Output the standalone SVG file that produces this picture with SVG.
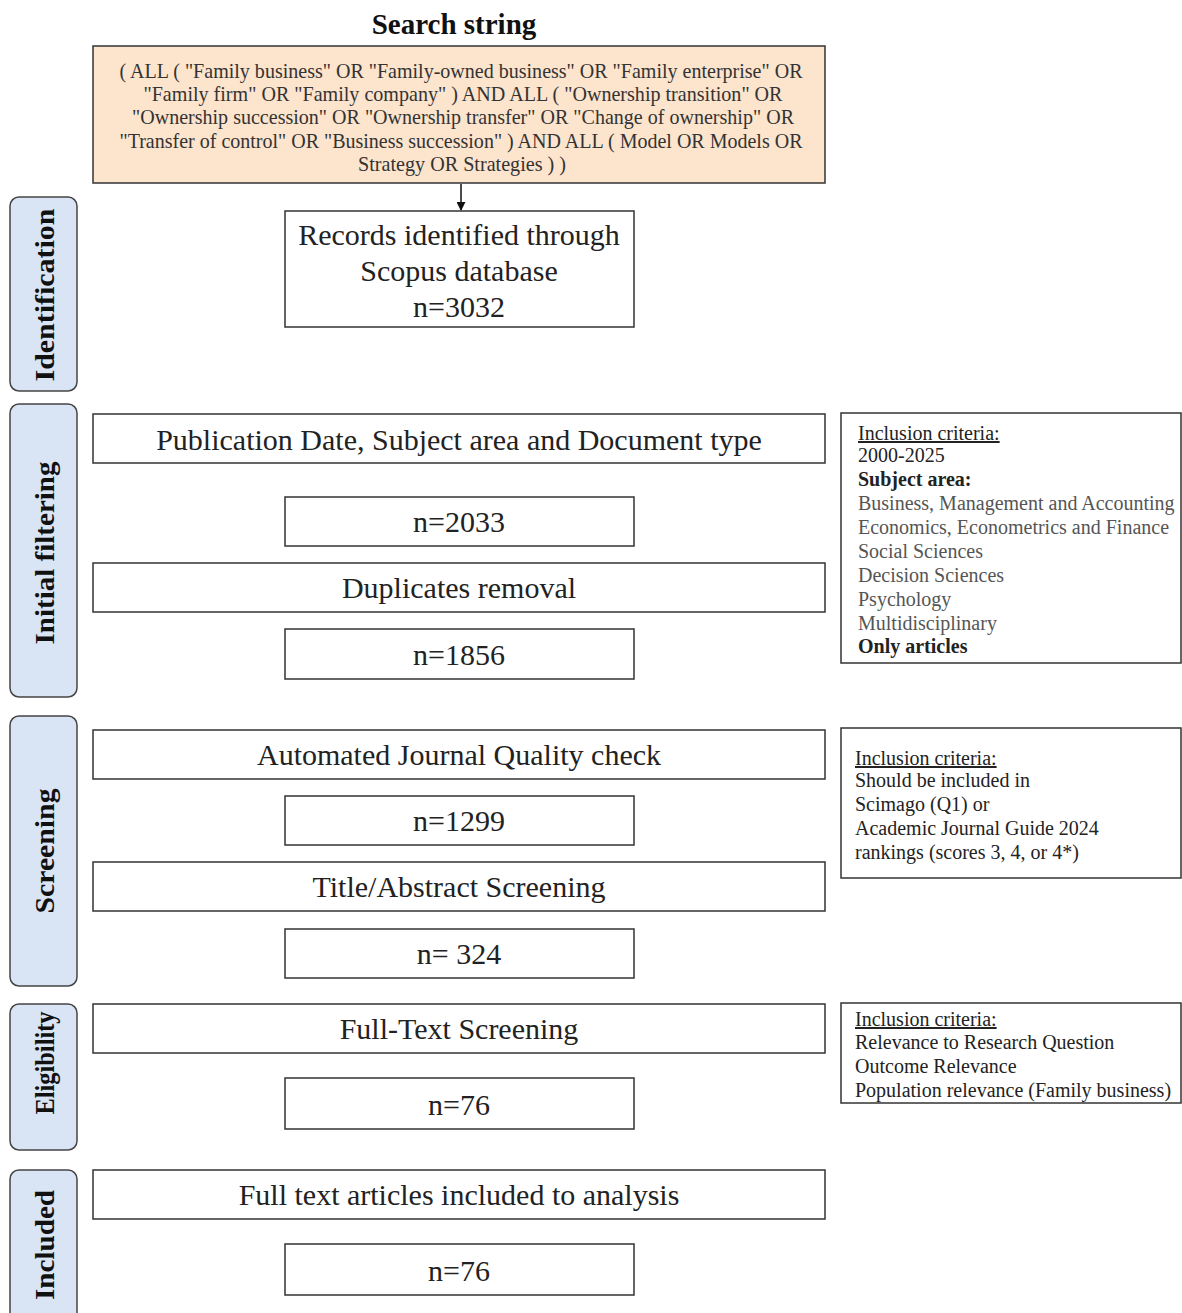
<svg xmlns="http://www.w3.org/2000/svg" width="1182" height="1313" viewBox="0 0 1182 1313">
<defs>
<style>
.t{font-family:"Liberation Serif","Times New Roman",serif;}
.box{fill:#fff;stroke:#333;stroke-width:1.5;}
.side{fill:#d9e4f5;stroke:#444;stroke-width:1.5;}
.sl{font-family:"Liberation Serif","Times New Roman",serif;font-weight:bold;font-size:28px;fill:#111;text-anchor:middle;}
.mt{font-family:"Liberation Serif","Times New Roman",serif;font-size:30px;fill:#222;text-anchor:middle;}
.ss{font-family:"Liberation Serif","Times New Roman",serif;font-size:21px;fill:#333;text-anchor:middle;}
.cr{font-family:"Liberation Serif","Times New Roman",serif;font-size:20px;fill:#222;}
.g{fill:#555;}
</style>
<marker id="ah" viewBox="0 0 10 10" refX="9" refY="5" markerWidth="9" markerHeight="9" orient="auto" markerUnits="userSpaceOnUse">
<path d="M0,0 L10,5 L0,10 z" fill="#111"/>
</marker>
</defs>
<rect width="1182" height="1313" fill="#fff"/>

<text class="t" x="454" y="34" font-size="29" font-weight="bold" text-anchor="middle" fill="#111">Search string</text>

<g id="search">
<rect x="93" y="46" width="732" height="137" fill="#fce4cd" stroke="#333" stroke-width="1.5"/>
<text class="ss" x="461" y="78" textLength="683" lengthAdjust="spacingAndGlyphs">( ALL ( "Family business" OR "Family-owned business" OR "Family enterprise" OR</text>
<text class="ss" x="463" y="101" textLength="639" lengthAdjust="spacingAndGlyphs">"Family firm" OR "Family company" ) AND ALL ( "Ownership transition" OR</text>
<text class="ss" x="463" y="124" textLength="662" lengthAdjust="spacingAndGlyphs">"Ownership succession" OR "Ownership transfer" OR "Change of ownership" OR</text>
<text class="ss" x="461" y="148" textLength="683" lengthAdjust="spacingAndGlyphs">"Transfer of control" OR "Business succession" ) AND ALL ( Model OR Models OR</text>
<text class="ss" x="462" y="171" textLength="208" lengthAdjust="spacingAndGlyphs">Strategy OR Strategies ) )</text>
</g>

<g id="connectors">
<line x1="461" y1="184" x2="461" y2="210" stroke="#111" stroke-width="1.5" marker-end="url(#ah)"/>
</g>

<g id="stage-identification">
<rect class="side" x="10" y="197" width="67" height="194" rx="9"/>
<text class="sl" transform="translate(54,295) rotate(-90)" textLength="173" lengthAdjust="spacingAndGlyphs">Identification</text>
</g>
<g id="stage-initial">
<rect class="side" x="10" y="404" width="67" height="293" rx="9"/>
<text class="sl" transform="translate(54,553) rotate(-90)" textLength="183" lengthAdjust="spacingAndGlyphs">Initial filtering</text>
</g>
<g id="stage-screening">
<rect class="side" x="10" y="716" width="67" height="270" rx="9"/>
<text class="sl" transform="translate(54,851) rotate(-90)" textLength="125" lengthAdjust="spacingAndGlyphs">Screening</text>
</g>
<g id="stage-eligibility">
<rect class="side" x="10" y="1004" width="67" height="146" rx="9"/>
<text class="sl" transform="translate(54,1063) rotate(-90)" textLength="103" lengthAdjust="spacingAndGlyphs">Eligibility</text>
</g>
<g id="stage-included">
<rect class="side" x="10" y="1170" width="67" height="160" rx="9"/>
<text class="sl" transform="translate(54,1245) rotate(-90)" textLength="110" lengthAdjust="spacingAndGlyphs">Included</text>
</g>

<g id="records">
<rect class="box" x="285" y="211" width="349" height="116"/>
<text class="mt" x="459" y="245">Records identified through</text>
<text class="mt" x="459" y="281">Scopus database</text>
<text class="mt" x="459" y="317">n=3032</text>
</g>

<g id="pubdate">
<rect class="box" x="93" y="414" width="732" height="49"/>
<text class="mt" x="459" y="450">Publication Date, Subject area and Document type</text>
</g>
<g id="n2033">
<rect class="box" x="285" y="497" width="349" height="49"/>
<text class="mt" x="459" y="532">n=2033</text>
</g>
<g id="duplicates">
<rect class="box" x="93" y="563" width="732" height="49"/>
<text class="mt" x="459" y="598">Duplicates removal</text>
</g>
<g id="n1856">
<rect class="box" x="285" y="629" width="349" height="50"/>
<text class="mt" x="459" y="665">n=1856</text>
</g>
<g id="journalcheck">
<rect class="box" x="93" y="730" width="732" height="49"/>
<text class="mt" x="459" y="765">Automated Journal Quality check</text>
</g>
<g id="n1299">
<rect class="box" x="285" y="796" width="349" height="49"/>
<text class="mt" x="459" y="831">n=1299</text>
</g>
<g id="titleabstract">
<rect class="box" x="93" y="862" width="732" height="49"/>
<text class="mt" x="459" y="897">Title/Abstract Screening</text>
</g>
<g id="n324">
<rect class="box" x="285" y="929" width="349" height="49"/>
<text class="mt" x="459" y="964">n= 324</text>
</g>
<g id="fulltext">
<rect class="box" x="93" y="1004" width="732" height="49"/>
<text class="mt" x="459" y="1039">Full-Text Screening</text>
</g>
<g id="n76a">
<rect class="box" x="285" y="1078" width="349" height="51"/>
<text class="mt" x="459" y="1115">n=76</text>
</g>
<g id="included">
<rect class="box" x="93" y="1170" width="732" height="49"/>
<text class="mt" x="459" y="1205">Full text articles included to analysis</text>
</g>
<g id="n76b">
<rect class="box" x="285" y="1244" width="349" height="51"/>
<text class="mt" x="459" y="1281">n=76</text>
</g>

<g id="criteria1">
<rect class="box" x="841" y="413" width="340" height="250"/>
<text class="cr" x="858" y="440" text-decoration="underline" fill="#333">Inclusion criteria:</text>
<text class="cr" x="858" y="462">2000-2025</text>
<text class="cr" x="858" y="486" font-weight="bold">Subject area:</text>
<text class="cr g" x="858" y="510">Business, Management and Accounting</text>
<text class="cr g" x="858" y="534">Economics, Econometrics and Finance</text>
<text class="cr g" x="858" y="558">Social Sciences</text>
<text class="cr g" x="858" y="582">Decision Sciences</text>
<text class="cr g" x="858" y="606">Psychology</text>
<text class="cr g" x="858" y="630">Multidisciplinary</text>
<text class="cr" x="858" y="653" font-weight="bold" fill="#333">Only articles</text>
</g>

<g id="criteria2">
<rect class="box" x="841" y="728" width="340" height="150"/>
<text class="cr" x="855" y="765" text-decoration="underline" fill="#333">Inclusion criteria:</text>
<text class="cr" x="855" y="787">Should be included in</text>
<text class="cr" x="855" y="811">Scimago (Q1)  or</text>
<text class="cr" x="855" y="835">Academic Journal Guide 2024</text>
<text class="cr" x="855" y="859">rankings (scores 3, 4, or 4*)</text>
</g>

<g id="criteria3">
<rect class="box" x="841" y="1003" width="340" height="100"/>
<text class="cr" x="855" y="1026" text-decoration="underline" fill="#333">Inclusion criteria:</text>
<text class="cr" x="855" y="1049">Relevance to Research Question</text>
<text class="cr" x="855" y="1073">Outcome Relevance</text>
<text class="cr" x="855" y="1097">Population relevance (Family business)</text>
</g>
</svg>
